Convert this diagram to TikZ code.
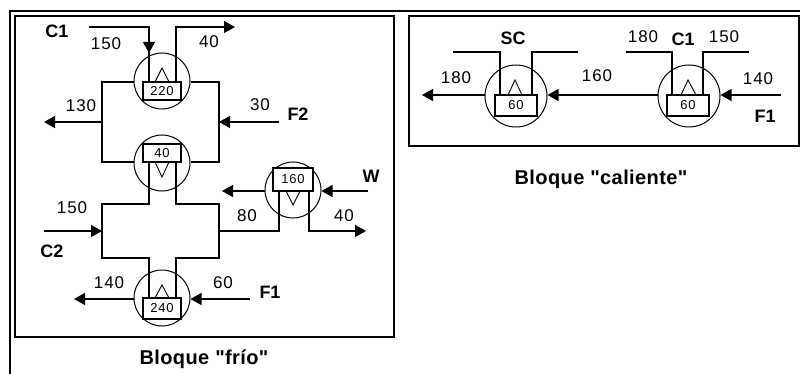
\documentclass[tikz,border=0pt]{standalone}
\usepackage{fontspec}
\setmainfont{Liberation Sans}[Ligatures=TeXOff]
\usetikzlibrary{arrows.meta}
\tikzset{
  hx/.style={circle,draw,line width=1pt,minimum size=#1,inner sep=0pt},
  hx/.default=56pt,
  tbox/.style={rectangle,draw,fill=white,line width=1.1pt,inner sep=0pt,font=\fontsize{13}{13}\selectfont\addfontfeature{LetterSpace=6}},
  tri/.style={line width=0.9pt},
  stream/.style={line width=1.3pt},
  flow/.style={line width=1.3pt,-{Triangle[length=11pt,width=12pt]}},
  num/.style={inner sep=0pt,font=\fontsize{17}{17}\selectfont\addfontfeature{LetterSpace=6}},
  lab/.style={inner sep=0pt,font=\fontsize{18}{18}\selectfont\bfseries},
  ttl/.style={inner sep=0pt,font=\fontsize{20}{20}\selectfont\bfseries\addfontfeature{LetterSpace=2}},
  frame/.style={draw,line width=1.3pt},
}
\begin{document}
\begin{tikzpicture}[x=1pt,y=-1pt]
\useasboundingbox (0,0) rectangle (800,374);
\fill[white] (0,0) rectangle (800,374);
% outer frame
\coordinate (o1) at (10,374); \coordinate (o2) at (10,11); \coordinate (o3) at (800,11);
\draw[line width=2.4pt] (o1) -- (o2) -- (o3);
\node[frame,minimum width=379pt,minimum height=321pt,inner sep=0pt] (cold) at (204.5,176.5) {};
\node[frame,minimum width=390pt,minimum height=130pt,inner sep=0pt] (hot) at (604,81) {};

% exchangers, cold block
\node[hx] (h1) at (162,81) {};
\node[hx] (h2) at (162,163) {};
\node[hx] (h3) at (293,190) {};
\node[hx] (h4) at (162,298) {};

% junctions and free ends
\coordinate (c1s) at (89,27); \coordinate (c1a) at (149,27); \coordinate (c1b) at (149,53); \coordinate (c1c) at (149,82);
\coordinate (c1d) at (176,82); \coordinate (c1e) at (176,27); \coordinate (c1f) at (235,27);
\coordinate (l1) at (102,82); \coordinate (l2) at (102,162); \coordinate (r1) at (219,82); \coordinate (r2) at (219,162);
\coordinate (lm) at (102,122); \coordinate (la) at (44,122); \coordinate (rm) at (219,122); \coordinate (rs) at (279,122);
\coordinate (m1) at (149,162); \coordinate (m2) at (149,204); \coordinate (m3) at (102,204); \coordinate (m4) at (102,258);
\coordinate (m5) at (149,258); \coordinate (m6) at (149,298);
\coordinate (n1) at (176,162); \coordinate (n2) at (176,204); \coordinate (n3) at (219,204); \coordinate (n4) at (219,258);
\coordinate (n5) at (176,258); \coordinate (n6) at (176,298);
\coordinate (c2s) at (44,231); \coordinate (c2e) at (102,231);
\coordinate (p1) at (219,231); \coordinate (p2) at (279,231); \coordinate (p3) at (279,191);
\coordinate (q1) at (309,191); \coordinate (q2) at (309,231); \coordinate (q3) at (366,231);
\coordinate (wa) at (222,191); \coordinate (ws) at (368,191);
\coordinate (ba) at (74,299); \coordinate (bs) at (250,299);

% streams
\draw[stream] (c1s) -- (c1a) -- (c1c);
\draw[flow] (c1a) -- (c1b);
\draw[flow] (c1d) -- (c1e) -- (c1f);
\draw[stream] (l1 -| h1.west) -- (l1) -- (l2) -- (l2 -| h2.west);
\draw[stream] (r1 -| h1.east) -- (r1) -- (r2) -- (r2 -| h2.east);
\draw[flow] (lm) -- (la);
\draw[flow] (rs) -- (rm);
\draw[stream] (m1) -- (m2) -- (m3) -- (m4) -- (m5) -- (m6);
\draw[stream] (n1) -- (n2) -- (n3) -- (n4) -- (n5) -- (n6);
\draw[flow] (c2s) -- (c2e);
\draw[stream] (p1) -- (p2) -- (p3);
\draw[flow] (q1) -- (q2) -- (q3);
\draw[flow] (wa -| h3.west) -- (wa);
\draw[flow] (ws) -- (ws -| h3.east);
\draw[flow] (ba -| h4.west) -- (ba);
\draw[flow] (bs) -- (bs -| h4.east);

% temperature boxes
\node[tbox,minimum width=38pt,minimum height=18pt] (b1) at (162,91) {220};
\node[tbox,minimum width=38pt,minimum height=18pt] (b2) at (162,153) {40};
\node[tbox,minimum width=40pt,minimum height=23pt] (b3) at (293,179.5) {160};
\node[tbox,minimum width=38pt,minimum height=21pt] (b4) at (162,308.5) {240};

% triangles
\draw[tri] (155,82) -- (162,68) -- (169,82);
\draw[tri] (155,162) -- (162,177) -- (169,162);
\draw[tri] (286,191) -- (293,205) -- (300,191);
\draw[tri] (155,298) -- (162,285) -- (169,298);

% hot block
\node[hx=62pt] (h5) at (516,96) {};
\node[hx=62pt] (h6) at (689,96) {};
\coordinate (s0) at (453,52); \coordinate (s1) at (500,52); \coordinate (s2) at (500,95);
\coordinate (s3) at (532,95); \coordinate (s4) at (532,52); \coordinate (s5) at (578,52);
\coordinate (u0) at (626,52); \coordinate (u1) at (672,52); \coordinate (u2) at (672,95);
\coordinate (u3) at (703,95); \coordinate (u4) at (703,52); \coordinate (u5) at (749,52);
\coordinate (ha) at (422,95); \coordinate (hs) at (781,95);
\draw[stream] (s0) -- (s1) -- (s2);
\draw[stream] (s3) -- (s4) -- (s5);
\draw[stream] (u0) -- (u1) -- (u2);
\draw[stream] (u3) -- (u4) -- (u5);
\draw[flow] (ha -| h5.west) -- (ha);
\draw[flow] (ha -| h6.west) -- (ha -| h5.east);
\draw[flow] (hs) -- (hs -| h6.east);
\node[tbox,minimum width=42pt,minimum height=21pt] (b5) at (516,105.5) {60};
\node[tbox,minimum width=42pt,minimum height=21pt] (b6) at (688,105.5) {60};
\draw[tri] (508,95) -- (515,80) -- (522,95);
\draw[tri] (681,95) -- (688,80) -- (696,95);

% labels, cold block
\node[lab] (t1) at (57,31) {C1};
\node[num] (t2) at (106,44) {150};
\node[num] (t3) at (209,42) {40};
\node[num] (t4) at (81,106) {130};
\node[num] (t5) at (260,105) {30};
\node[lab] (t6) at (298,114) {F2};
\node[lab] (t7) at (371,176) {W};
\node[num] (t8) at (72,208) {150};
\node[lab] (t9) at (52,251) {C2};
\node[num] (t10) at (247,216) {80};
\node[num] (t11) at (344,216) {40};
\node[num] (t12) at (109,283) {140};
\node[num] (t13) at (223,283) {60};
\node[lab] (t14) at (270,292) {F1};
\node[ttl] (t15) at (204,359) {Bloque "frío"};
% labels, hot block
\node[lab] (t16) at (513,38) {SC};
\node[num] (t17) at (456,78) {180};
\node[num] (t18) at (597,76) {160};
\node[num] (t19) at (643,37) {180};
\node[lab] (t20) at (683,39) {C1};
\node[num] (t21) at (724,37) {150};
\node[num] (t22) at (758,79) {140};
\node[lab] (t23) at (765,116) {F1};
\node[ttl] (t24) at (601,179) {Bloque "caliente"};
\end{tikzpicture}
\end{document}
